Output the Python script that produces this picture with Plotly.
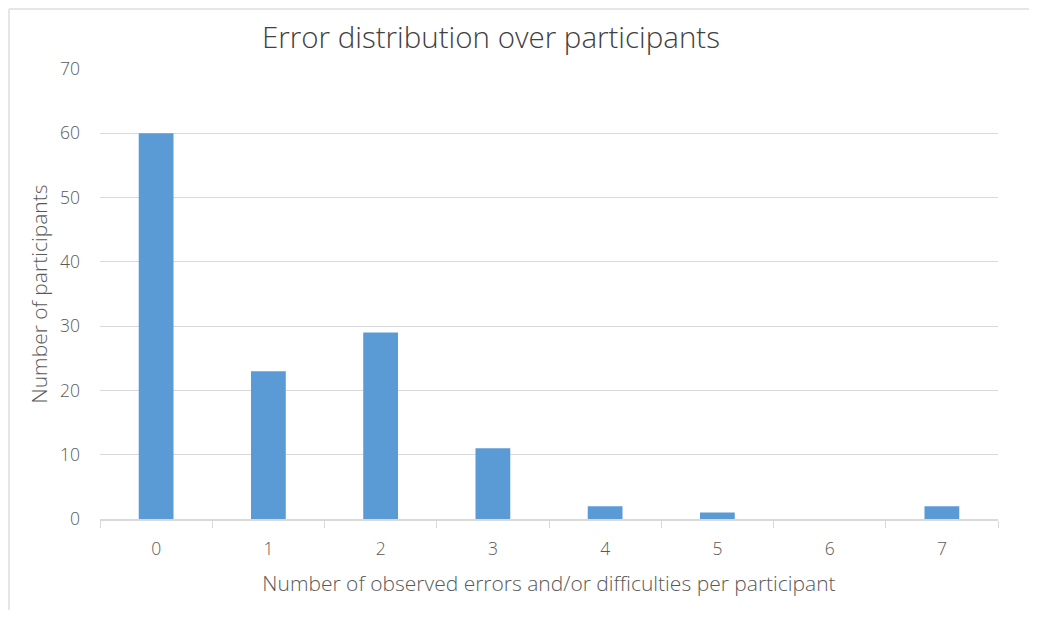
import plotly.graph_objects as go

categories = ["0", "1", "2", "3", "4", "5", "6", "7"]
participants = [60, 23, 29, 11, 2, 1, 0, 2]
y_ticks = [0, 10, 20, 30, 40, 50, 60, 70]

FONT = "Open Sans"
W, H = 1021, 602
fig = go.Figure()
fig.add_trace(go.Bar(x=categories, y=participants, marker_color="#5B9BD5",
                     marker_line_width=0, width=0.31))

fig.update_layout(
    width=W, height=H,
    margin=dict(l=92, r=31, t=61, b=91),
    paper_bgcolor="white", plot_bgcolor="white",
    font=dict(family=FONT, color="#595959", size=17),
    showlegend=False,
    title=dict(text="Error distribution over participants", x=483 / W, xanchor="center",
               y=1 - 30 / H, yanchor="middle", xref="container", yref="container",
               font=dict(family=FONT, size=29.5, color="#404040", weight=300)),
    xaxis=dict(type="category", showgrid=False, showline=True, linecolor="#d9d9d9", linewidth=1.5,
               ticks="outside", tickson="boundaries", ticklen=7, tickcolor="#d9d9d9",
               ticklabelstandoff=13,
               tickfont=dict(size=17.5, color="#595959", weight=300),
               title=dict(text="Number of observed errors and/or difficulties per participant",
                          font=dict(size=21, color="#595959", weight=300), standoff=18)),
    yaxis=dict(range=[0, 70], tickvals=y_ticks, showgrid=True, gridcolor="#d9d9d9", gridwidth=1.3,
               zeroline=False, showline=False, ticks="", ticklabelstandoff=19,
               tickfont=dict(size=17.5, color="#595959", weight=300),
               title=dict(text="Number of participants",
                          font=dict(size=21, color="#595959", weight=300), standoff=6)),
    shapes=[
        dict(type="line", xref="paper", yref="paper", x0=-0.1013, x1=1.1, y0=1.1335, y1=1.1335,
             line=dict(color="#e6e6e6", width=2)),
        dict(type="line", xref="paper", yref="paper", x0=-0.1013, x1=-0.1013, y0=-0.3, y1=1.1335,
             line=dict(color="#e6e6e6", width=2)),
    ],
)

fig.write_html("out.html")
